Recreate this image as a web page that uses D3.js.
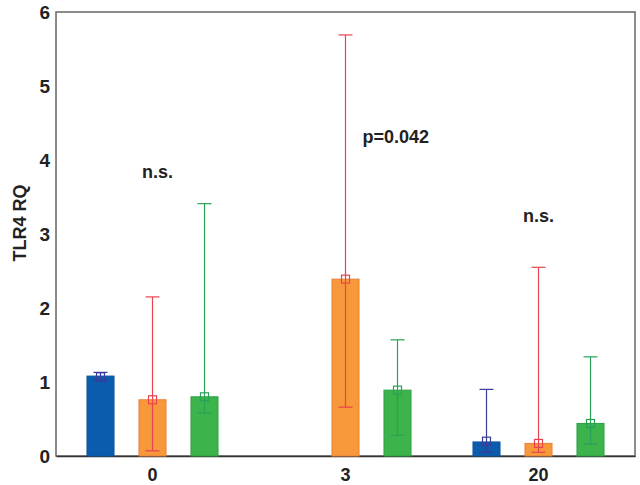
<!DOCTYPE html>
<html>
<head>
<meta charset="utf-8">
<script src="https://cdn.jsdelivr.net/npm/d3@7"></script>
<style>
  body { margin: 0; background: #fff; }
  text { font-family: "Liberation Sans", Arial, sans-serif; font-weight: bold; fill: #222; }
</style>
</head>
<body>
<svg id="chart"></svg>
<script>
const width = 640;
const height = 485;
const margin = { top: 12, right: 5, bottom: 29, left: 56 };

// data
const categories = ["0", "3", "20"];
const seriesNames = ["blue", "orange", "green"];
const meanBlue   = [1.08, null, 0.19];
const meanOrange = [0.76, 2.39, 0.17];
const meanGreen  = [0.80, 0.89, 0.44];
const markBlue   = [1.07, null, 0.20];
const markOrange = [0.76, 2.39, 0.17];
const markGreen  = [0.80, 0.89, 0.44];
const lowBlue    = [1.02, null, 0.05];
const lowOrange  = [0.07, 0.66, 0.05];
const lowGreen   = [0.58, 0.28, 0.16];
const highBlue   = [1.13, null, 0.90];
const highOrange = [2.15, 5.69, 2.55];
const highGreen  = [3.41, 1.57, 1.34];
const yTicks = [0, 1, 2, 3, 4, 5, 6];
const annotations = ["n.s.", "p=0.042", "n.s."];
const annotationY = [3.76, 4.23, 3.16];

const fills   = { blue: "#0b5cad", orange: "#f7993b", green: "#3cb44b" };
const borders = { blue: "#0a55a0", orange: "#e8803a", green: "#2f9f45" };
const errCols = { blue: "#3b3b9b", orange: "#e8434f", green: "#27a257" };

const means = { blue: meanBlue, orange: meanOrange, green: meanGreen };
const marks = { blue: markBlue, orange: markOrange, green: markGreen };
const lows  = { blue: lowBlue,  orange: lowOrange,  green: lowGreen };
const highs = { blue: highBlue, orange: highOrange, green: highGreen };

const rows = [];
seriesNames.forEach(s => {
  categories.forEach((c, i) => {
    if (means[s][i] == null) return;
    rows.push({ series: s, cat: c, mean: means[s][i], mark: marks[s][i], lo: lows[s][i], hi: highs[s][i] });
  });
});

const svg = d3.select("#chart").attr("width", width).attr("height", height);
const x0 = margin.left, x1 = width - margin.right;
const y0 = height - margin.bottom, y1 = margin.top;

const y = d3.scaleLinear().domain([0, 6]).range([y0, y1]);
const x = d3.scaleBand().domain(categories).range([x0, x1]);
const xs = d3.scaleBand().domain(seriesNames).range([-78, 78]).paddingInner(0.48).paddingOuter(0.24);
const gc = c => x(c) + x.bandwidth() / 2;

// frame
svg.append("rect")
  .attr("x", x0).attr("y", y1)
  .attr("width", x1 - x0).attr("height", y0 - y1)
  .attr("fill", "none").attr("stroke", "#666").attr("stroke-width", 1.5);

// axes
const yAxis = svg.append("g").attr("transform", `translate(${x0},0)`)
  .call(d3.axisLeft(y).tickValues(yTicks).tickSize(0).tickPadding(6).tickFormat(d3.format("d")));
yAxis.select(".domain").remove();
yAxis.selectAll("text").style("font-size", "19px").attr("fill", "#222");

const xAxis = svg.append("g").attr("transform", `translate(0,${y0})`)
  .call(d3.axisBottom(x).tickSize(0).tickPadding(12));
xAxis.select(".domain").attr("stroke", "#333").attr("stroke-width", 1.5);
xAxis.selectAll("text").style("font-size", "18px").attr("fill", "#222");

svg.append("text")
  .attr("transform", `translate(26,223) rotate(-90)`)
  .attr("text-anchor", "middle")
  .style("font-size", "18px")
  .text("TLR4 RQ");

// bars
const bw = xs.bandwidth();
const cx = d => gc(d.cat) + xs(d.series) + bw / 2;

svg.append("g").selectAll("rect").data(rows).enter().append("rect")
  .attr("x", d => gc(d.cat) + xs(d.series))
  .attr("y", d => y(d.mean))
  .attr("width", bw)
  .attr("height", d => y(0) - y(d.mean))
  .attr("fill", d => fills[d.series])
  .attr("stroke", d => borders[d.series])
  .attr("stroke-width", 1);

// error bars
const eb = svg.append("g").selectAll("g").data(rows).enter().append("g")
  .attr("stroke", d => errCols[d.series]).attr("stroke-width", 1.2).attr("fill", "none");
eb.append("line")
  .attr("x1", cx).attr("x2", cx)
  .attr("y1", d => y(d.lo)).attr("y2", d => y(d.hi));
eb.append("line")
  .attr("x1", d => cx(d) - 7).attr("x2", d => cx(d) + 7)
  .attr("y1", d => y(d.hi)).attr("y2", d => y(d.hi));
eb.append("line")
  .attr("x1", d => cx(d) - 7).attr("x2", d => cx(d) + 7)
  .attr("y1", d => y(d.lo)).attr("y2", d => y(d.lo));
eb.append("rect")
  .attr("x", d => cx(d) - 4).attr("y", d => y(d.mark) - 4)
  .attr("width", 8).attr("height", 8);

// significance labels
const annOffset = [5, 17, 0];
const annAnchor = ["middle", "start", "middle"];
svg.append("g").selectAll("text").data(annotations).enter().append("text")
  .attr("x", (d, i) => gc(categories[i]) + annOffset[i])
  .attr("y", (d, i) => y(annotationY[i]))
  .attr("text-anchor", (d, i) => annAnchor[i])
  .style("font-size", "18px")
  .text(d => d);
</script>
</body>
</html>
